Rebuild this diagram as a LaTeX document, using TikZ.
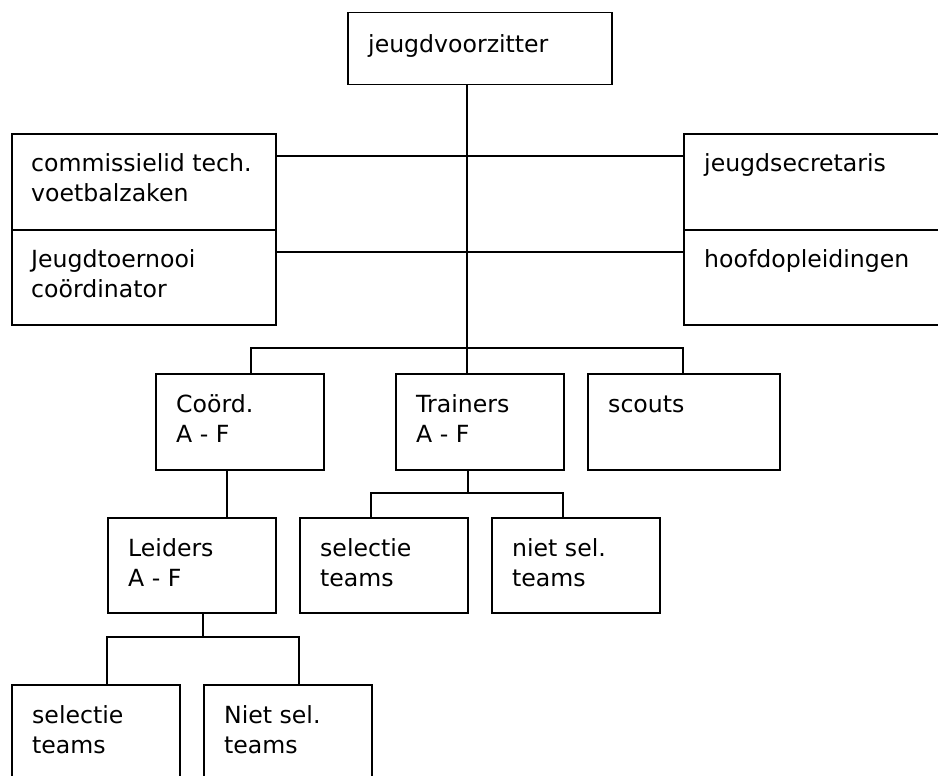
\documentclass[tikz,border=0pt]{standalone}
\usepackage{fontspec}
\setmainfont{DejaVu Sans}
\begin{document}
\begin{tikzpicture}[x=1pt,y=-1pt,
  box/.style={draw=black, line width=1.5pt, rectangle, inner sep=0pt, anchor=north west},
  txt/.style={anchor=north west, inner sep=0pt, align=left, font=\fontsize{23.6}{30}\selectfont},
  conn/.style={draw=black, line width=1.5pt}]
\useasboundingbox (0,0) rectangle (938,776);
\clip (0,0) rectangle (938,776);
\fill[white] (0,0) rectangle (938,776);
% boxes
\node[box, minimum width=264pt, minimum height=72pt] (jv) at (347,12) {};
\node[box, minimum width=264pt, minimum height=96pt] (ct) at (11,133) {};
\node[box, minimum width=264pt, minimum height=95pt] (jt) at (11,229) {};
\node[box, minimum width=267pt, minimum height=96pt] (js) at (683,133) {};
\node[box, minimum width=267pt, minimum height=95pt] (hd) at (683,229) {};
\node[box, minimum width=168pt, minimum height=96pt] (co) at (155,373) {};
\node[box, minimum width=168pt, minimum height=96pt] (tr) at (395,373) {};
\node[box, minimum width=192pt, minimum height=96pt] (sc) at (587,373) {};
\node[box, minimum width=168pt, minimum height=95pt] (le) at (107,517) {};
\node[box, minimum width=168pt, minimum height=95pt] (s1) at (299,517) {};
\node[box, minimum width=168pt, minimum height=95pt] (n1) at (491,517) {};
\node[box, minimum width=168pt, minimum height=106pt] (s2) at (11,684) {};
\node[box, minimum width=168pt, minimum height=106pt] (n2) at (203,684) {};
% texts
\node[txt] (tjv) at ([shift={(21,19)}]jv.north west) {\strut jeugdvoorzitter};
\node[txt] (tct) at ([shift={(20,17)}]ct.north west) {\strut commissielid tech.\\voetbalzaken};
\node[txt] (tjt) at ([shift={(20,17)}]jt.north west) {\strut Jeugdtoernooi\\coördinator};
\node[txt] (tjs) at ([shift={(21,17)}]js.north west) {\strut jeugdsecretaris};
\node[txt] (thd) at ([shift={(21,17)}]hd.north west) {\strut hoofdopleidingen};
\node[txt] (tco) at ([shift={(21,18)}]co.north west) {\strut Coörd.\\A - F};
\node[txt] (ttr) at ([shift={(21,18)}]tr.north west) {\strut Trainers\\A - F};
\node[txt] (tsc) at ([shift={(21,18)}]sc.north west) {\strut scouts};
\node[txt] (tle) at ([shift={(21,18)}]le.north west) {\strut Leiders\\A - F};
\node[txt] (ts1) at ([shift={(21,18)}]s1.north west) {\strut selectie\\teams};
\node[txt] (tn1) at ([shift={(21,18)}]n1.north west) {\strut niet sel.\\teams};
\node[txt] (ts2) at ([shift={(21,18)}]s2.north west) {\strut selectie\\teams};
\node[txt] (tn2) at ([shift={(21,18)}]n2.north west) {\strut Niet sel.\\teams};
% junction coordinates
\coordinate (sp) at (467,348);
\coordinate (h1) at (467,156);
\coordinate (h2) at (467,252);
\coordinate (bl) at (251,348);
\coordinate (br) at (683,348);
\coordinate (cl) at (227,469);
\coordinate (tj) at (468,493);
\coordinate (tl) at (371,493);
\coordinate (trr) at (563,493);
\coordinate (lj) at (203,637);
\coordinate (ll) at (107,637);
\coordinate (lr) at (299,637);
% connectors
\draw[conn] (jv.south -| sp) -- (sp);
\draw[conn] (ct.east |- h1) -- (js.west |- h1);
\draw[conn] (jt.east |- h2) -- (hd.west |- h2);
\draw[conn] (bl |- co.north) -- (bl) -- (br) -- (br |- sc.north);
\draw[conn] (sp) -- (sp |- tr.north);
\draw[conn] (cl) -- (cl |- le.north);
\draw[conn] (tj |- tr.south) -- (tj);
\draw[conn] (tl |- s1.north) -- (tl) -- (trr) -- (trr |- n1.north);
\draw[conn] (lj |- le.south) -- (lj);
\draw[conn] (ll |- s2.north) -- (ll) -- (lr) -- (lr |- n2.north);
\end{tikzpicture}
\end{document}
